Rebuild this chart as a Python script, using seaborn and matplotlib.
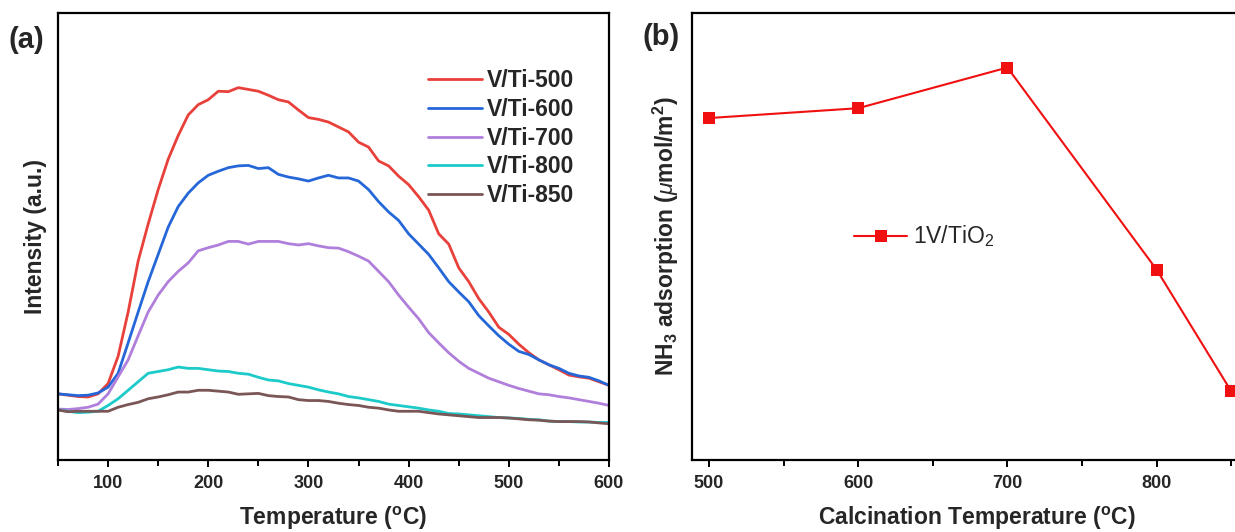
import matplotlib
matplotlib.use("Agg")
import matplotlib.pyplot as plt
import seaborn as sns
import pandas as pd
import numpy as np

sns.set_theme(style="white")
plt.rcParams['font.family'] = ['Liberation Sans', 'DejaVu Sans']
plt.rcParams['mathtext.fontset'] = 'custom'
plt.rcParams['mathtext.rm'] = 'Liberation Sans'
plt.rcParams['mathtext.bf'] = 'Liberation Sans:bold'
plt.rcParams['mathtext.it'] = 'Liberation Sans:italic'

# ---------------- data ----------------
temperature = list(range(50, 601, 10))

v_ti_500 = [0.148, 0.145, 0.142, 0.141, 0.148, 0.171, 0.232, 0.331, 0.445, 0.528,
            0.605, 0.673, 0.726, 0.772, 0.795, 0.806, 0.825, 0.824, 0.833, 0.829,
            0.825, 0.816, 0.806, 0.801, 0.783, 0.766, 0.762, 0.756, 0.745, 0.734,
            0.711, 0.700, 0.669, 0.658, 0.635, 0.616, 0.589, 0.559, 0.506, 0.483,
            0.430, 0.399, 0.361, 0.331, 0.297, 0.281, 0.259, 0.240, 0.224, 0.213,
            0.202, 0.190, 0.186, 0.183, 0.175, 0.167]
v_ti_600 = [0.148, 0.146, 0.144, 0.145, 0.150, 0.163, 0.194, 0.262, 0.331, 0.399,
            0.460, 0.521, 0.567, 0.597, 0.620, 0.637, 0.646, 0.654, 0.658, 0.659,
            0.652, 0.654, 0.639, 0.633, 0.629, 0.624, 0.631, 0.637, 0.631, 0.631,
            0.624, 0.605, 0.578, 0.555, 0.536, 0.506, 0.483, 0.460, 0.430, 0.399,
            0.376, 0.354, 0.323, 0.300, 0.278, 0.259, 0.243, 0.236, 0.224, 0.213,
            0.205, 0.194, 0.188, 0.185, 0.177, 0.167]
v_ti_700 = [0.114, 0.113, 0.115, 0.118, 0.125, 0.148, 0.186, 0.224, 0.278, 0.331,
            0.369, 0.399, 0.422, 0.441, 0.468, 0.475, 0.481, 0.489, 0.489, 0.483,
            0.489, 0.489, 0.489, 0.484, 0.481, 0.484, 0.479, 0.475, 0.474, 0.466,
            0.456, 0.445, 0.422, 0.399, 0.369, 0.342, 0.316, 0.285, 0.262, 0.240,
            0.221, 0.205, 0.194, 0.183, 0.175, 0.167, 0.160, 0.154, 0.148, 0.146,
            0.142, 0.139, 0.135, 0.131, 0.127, 0.122]
v_ti_800 = [0.112, 0.109, 0.106, 0.107, 0.109, 0.122, 0.137, 0.156, 0.175, 0.194,
            0.198, 0.202, 0.208, 0.205, 0.205, 0.202, 0.199, 0.198, 0.194, 0.192,
            0.185, 0.179, 0.177, 0.171, 0.167, 0.163, 0.157, 0.152, 0.148, 0.142,
            0.139, 0.135, 0.131, 0.125, 0.122, 0.119, 0.116, 0.112, 0.109, 0.104,
            0.103, 0.101, 0.099, 0.097, 0.095, 0.094, 0.093, 0.091, 0.090, 0.087,
            0.086, 0.086, 0.085, 0.085, 0.084, 0.084]
v_ti_850 = [0.112, 0.108, 0.109, 0.109, 0.109, 0.109, 0.118, 0.124, 0.129, 0.137,
            0.141, 0.146, 0.152, 0.152, 0.156, 0.156, 0.154, 0.152, 0.147, 0.148,
            0.149, 0.144, 0.142, 0.141, 0.135, 0.133, 0.133, 0.131, 0.127, 0.124,
            0.122, 0.118, 0.116, 0.112, 0.109, 0.109, 0.109, 0.106, 0.103, 0.101,
            0.099, 0.097, 0.095, 0.095, 0.095, 0.094, 0.092, 0.090, 0.089, 0.087,
            0.086, 0.086, 0.086, 0.085, 0.083, 0.081]

series_names = ["V/Ti-500", "V/Ti-600", "V/Ti-700", "V/Ti-800", "V/Ti-850"]
series_colors = ["#E8403A", "#2567D8", "#B07FDB", "#1CCACA", "#7A5656"]

calc_temp = [500, 600, 700, 800, 850]
nh3_ads = [0.765, 0.787, 0.878, 0.426, 0.154]

# ---------------- figure ----------------
W, H = 1235, 532
fig = plt.figure(figsize=(W / 100, H / 100), dpi=100)

def px_axes(x0, y_top, x1, y_bot):
    return [x0 / W, (H - y_bot) / H, (x1 - x0) / W, (y_bot - y_top) / H]

ax1 = fig.add_axes(px_axes(58, 13, 609, 460))
ax2 = fig.add_axes(px_axes(692, 13, 1261, 460))

long = pd.DataFrame({
    "T": temperature * 5,
    "I": v_ti_500 + v_ti_600 + v_ti_700 + v_ti_800 + v_ti_850,
    "s": sum([[n] * len(temperature) for n in series_names], []),
})
sns.lineplot(data=long, x="T", y="I", hue="s", hue_order=series_names,
             palette=series_colors, ax=ax1, linewidth=2.0, legend=False)
for n, c in zip(series_names, series_colors):
    ax1.plot([], [], color=c, lw=2.0, label=n)

LAB = 16.5
ax1.set_xlim(50, 600)
ax1.set_ylim(0, 1)
ax1.set_xticks([100, 200, 300, 400, 500, 600])
ax1.set_xticks([50, 150, 250, 350, 450, 550], minor=True)
ax1.set_yticks([])
ax1.set_xlabel("Temperature ($^\\mathbf{o}$C)", fontsize=LAB, fontweight="bold", labelpad=9)
ax1.set_ylabel("Intensity (a.u.)", fontsize=LAB, fontweight="bold", labelpad=8)
ax1.legend(loc="upper left", bbox_to_anchor=(0.655, 0.895), frameon=False,
           prop={"weight": "bold", "size": 16.5}, handlelength=2.35,
           handletextpad=0.2, labelspacing=0.25, borderaxespad=0)

df2 = pd.DataFrame({"T": calc_temp, "A": nh3_ads})
sns.lineplot(data=df2, x="T", y="A", ax=ax2, color="#F01010", linewidth=1.5,
             marker="s", markersize=8, markeredgewidth=0, label="1V/TiO$_2$")
ax2.set_xlim(488.6, 870)
ax2.set_ylim(0, 1)
ax2.set_xticks([500, 600, 700, 800])
ax2.set_xticks([550, 650, 750, 850], minor=True)
ax2.set_yticks([])
ax2.set_xlabel("Calcination Temperature ($^\\mathbf{o}$C)", fontsize=LAB,
               fontweight="bold", labelpad=9)
ax2.set_ylabel("NH$_\\mathbf{3}$ adsorption ($\\mu$mol/m$^\\mathbf{2}$)", fontsize=LAB,
               fontweight="bold", labelpad=8)
ax2.legend(loc="center left", bbox_to_anchor=(0.269, 0.50), frameon=False,
           prop={"size": 16.5}, handlelength=2.3, handletextpad=0.25, borderaxespad=0)

for ax in (ax1, ax2):
    for sp in ax.spines.values():
        sp.set_linewidth(1.6)
        sp.set_color("black")
    ax.tick_params(axis="x", which="both", direction="out", bottom=True,
                   width=1.4, color="black")
    ax.tick_params(axis="x", which="major", length=5, labelsize=13, pad=6)
    ax.tick_params(axis="x", which="minor", length=4)
    for lab in ax.get_xticklabels():
        lab.set_fontweight("bold")
    ax.grid(False)

fig.text(9 / W, 1 - 40 / H, "(a)", fontsize=21, fontweight="bold", va="center", ha="left")
fig.text(643 / W, 1 - 37 / H, "(b)", fontsize=21, fontweight="bold", va="center", ha="left")

fig.savefig("out.png", dpi=100)
